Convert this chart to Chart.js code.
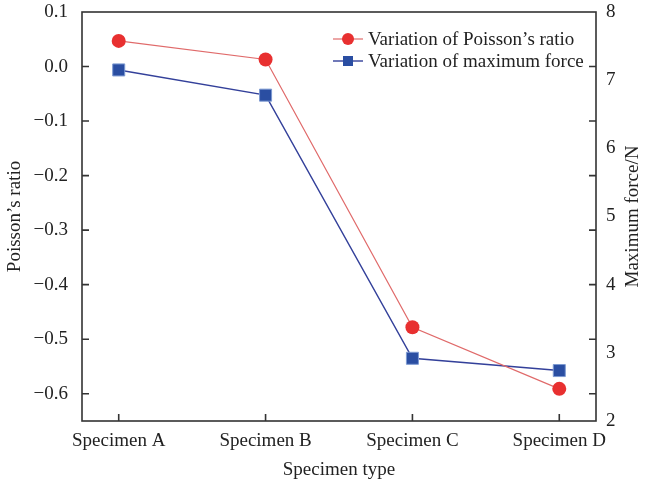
<!DOCTYPE html>
<html>
<head>
<meta charset="utf-8">
<script src="https://cdn.jsdelivr.net/npm/chart.js@4/dist/chart.umd.min.js"></script>
<style>
  body { margin: 0; background: #fff; }
  #wrap { width: 645px; height: 494px; }
</style>
</head>
<body>
<div id="wrap"><canvas id="chart"></canvas></div>
<script>
const categories = ['Specimen A', 'Specimen B', 'Specimen C', 'Specimen D'];
const poissonRatio = [0.047, 0.013, -0.478, -0.591];
const maxForce = [7.15, 6.78, 2.92, 2.74];
const poissonTicks = [0.1, 0.0, -0.1, -0.2, -0.3, -0.4, -0.5, -0.6];
const forceTicks = [2, 3, 4, 5, 6, 7, 8];

const FONT = 'Liberation Serif';
const AXIS = '#333';

const fmt = v => (v < 0 ? '\u2212' : '') + Math.abs(v).toFixed(1);

// box + inward ticks (right side mirrors left ticks) + right title
const framePlugin = {
    id: 'frame',
    afterDraw(chart) {
        const { ctx, chartArea: a, scales } = chart;
        ctx.save();
        ctx.strokeStyle = AXIS;
        ctx.lineWidth = 1.6;
        ctx.strokeRect(a.left, a.top, a.right - a.left, a.bottom - a.top);
        ctx.beginPath();
        poissonTicks.forEach(t => {
            const y = scales.y.getPixelForValue(t);
            if (y > a.top + 1 && y < a.bottom - 1) {
                ctx.moveTo(a.left, y); ctx.lineTo(a.left + 7, y);
                ctx.moveTo(a.right, y); ctx.lineTo(a.right - 7, y);
            }
        });
        categories.forEach((c, i) => {
            const x = scales.x.getPixelForValue(i);
            ctx.moveTo(x, a.bottom); ctx.lineTo(x, a.bottom - 7);
        });
        ctx.stroke();

        // right axis title reads bottom to top, like the left one
        ctx.translate(633, (a.top + a.bottom) / 2);
        ctx.rotate(-Math.PI / 2);
        ctx.font = '19px "' + FONT + '"';
        ctx.fillStyle = '#222';
        ctx.textAlign = 'center';
        ctx.textBaseline = 'middle';
        ctx.fillText('Maximum force/N', 0, 0);
        ctx.restore();
    }
};

// legend: marker with short line on both sides
const legendPlugin = {
    id: 'customLegend',
    afterDraw(chart) {
        const { ctx } = chart;
        ctx.save();
        ctx.font = '19px "' + FONT + '"';
        ctx.textBaseline = 'middle';
        chart.data.datasets.forEach((ds, i) => {
            const y = 39 + i * 22;
            ctx.strokeStyle = ds.borderColor;
            ctx.lineWidth = ds.borderWidth;
            ctx.beginPath();
            ctx.moveTo(333, y); ctx.lineTo(363, y);
            ctx.stroke();
            ctx.fillStyle = ds.pointBackgroundColor;
            if (ds.pointStyle === 'rect') {
                ctx.fillRect(343, y - 5, 10, 10);
            } else {
                ctx.beginPath();
                ctx.arc(348, y, 6, 0, Math.PI * 2);
                ctx.fill();
            }
            ctx.fillStyle = '#222';
            ctx.fillText(ds.label, 368, y + 1);
        });
        ctx.restore();
    }
};

const noGrid = { display: false, drawTicks: false };
const noPadV = s => { s.paddingTop = 0; s.paddingBottom = 0; };

new Chart(document.getElementById('chart'), {
    type: 'line',
    data: {
        datasets: [
            {
                label: 'Variation of Poisson\u2019s ratio',
                data: poissonRatio.map((v, i) => ({ x: i, y: v })),
                yAxisID: 'y',
                borderColor: '#e06a6a',
                borderWidth: 1.2,
                pointStyle: 'circle',
                pointRadius: 7,
                pointBackgroundColor: '#e83030',
                pointBorderWidth: 0,
                pointBorderColor: '#e83030'
            },
            {
                label: 'Variation of maximum force',
                data: maxForce.map((v, i) => ({ x: i, y: v })),
                yAxisID: 'y1',
                borderColor: '#33409a',
                borderWidth: 1.4,
                pointStyle: 'rect',
                pointRadius: 8.5,
                pointBackgroundColor: '#2a4ea2',
                pointBorderWidth: 1,
                pointBorderColor: '#7d9ad2'
            }
        ]
    },
    options: {
        responsive: true,
        maintainAspectRatio: false,
        animation: false,
        layout: { padding: { top: 12, right: 0, left: 0, bottom: 0 } },
        plugins: { legend: { display: false }, tooltip: { enabled: false } },
        scales: {
            x: {
                type: 'linear',
                min: -0.25,
                max: 3.25,
                afterBuildTicks: s => { s.ticks = categories.map((c, i) => ({ value: i })); },
                afterFit: s => { s.height = 73; s.paddingLeft = 0; s.paddingRight = 0; },
                grid: noGrid,
                border: { display: false },
                ticks: {
                    callback: v => categories[v],
                    padding: 9,
                    color: '#222',
                    font: { family: FONT, size: 19 },
                    maxRotation: 0
                },
                title: {
                    display: true,
                    text: 'Specimen type',
                    color: '#222',
                    font: { family: FONT, size: 19 },
                    padding: { top: 4, bottom: 13 }
                }
            },
            y: {
                position: 'left',
                min: -0.65,
                max: 0.1,
                afterBuildTicks: s => { s.ticks = poissonTicks.map(v => ({ value: v })); },
                afterFit: s => { s.width = 82; noPadV(s); },
                grid: noGrid,
                border: { display: false },
                ticks: {
                    callback: v => fmt(v),
                    padding: 14,
                    color: '#222',
                    font: { family: FONT, size: 19 }
                },
                title: {
                    display: true,
                    text: 'Poisson\u2019s ratio',
                    color: '#222',
                    font: { family: FONT, size: 19 },
                    padding: { bottom: 0 }
                }
            },
            y1: {
                position: 'right',
                min: 2,
                max: 8,
                afterBuildTicks: s => { s.ticks = forceTicks.map(v => ({ value: v })); },
                afterFit: s => { s.width = 49; noPadV(s); },
                grid: noGrid,
                border: { display: false },
                ticks: {
                    padding: 10,
                    color: '#222',
                    font: { family: FONT, size: 19 }
                }
            }
        }
    },
    plugins: [framePlugin, legendPlugin]
});
</script>
</body>
</html>
